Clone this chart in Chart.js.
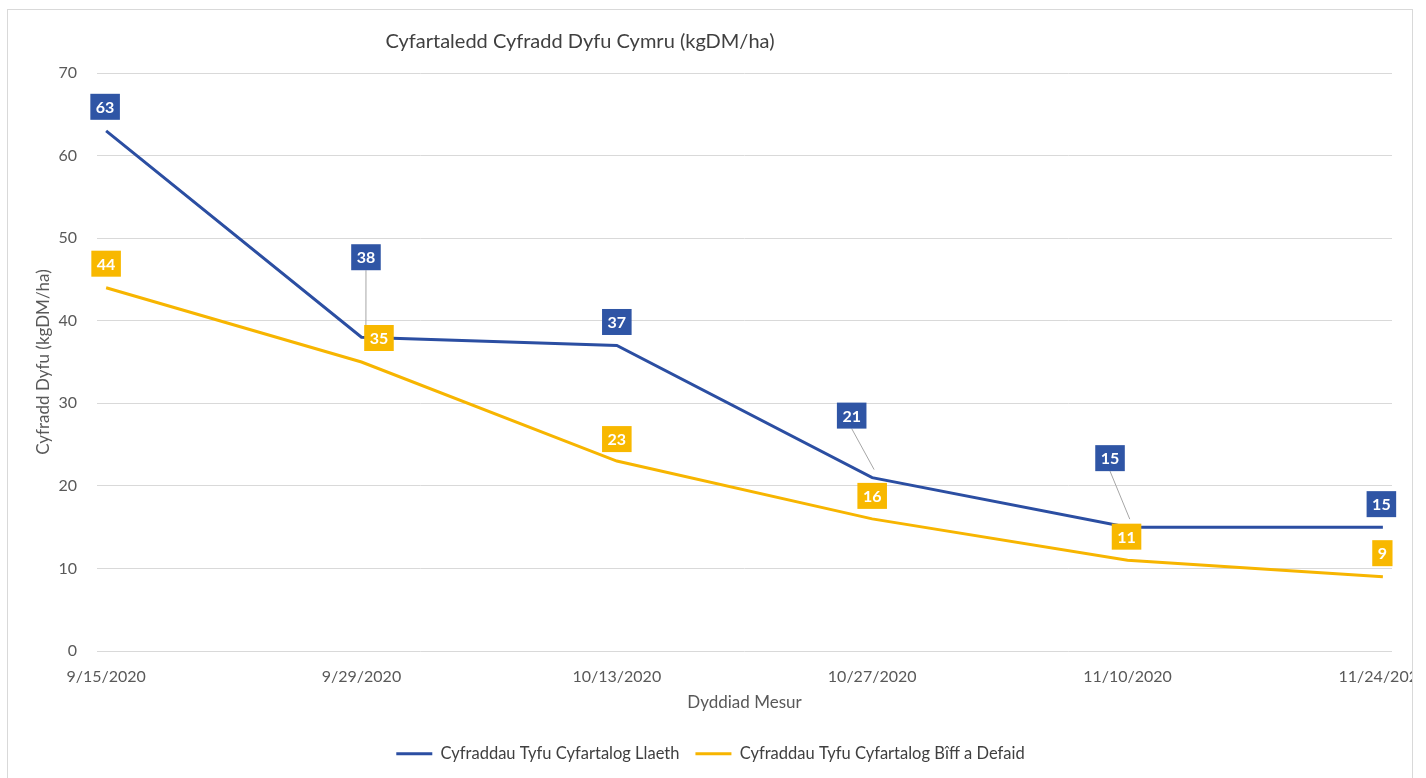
<!DOCTYPE html>
<html>
<head>
<meta charset="utf-8">
<script src="https://cdn.jsdelivr.net/npm/chart.js@4.4.0/dist/chart.umd.min.js"></script>
<style>
  html, body { margin: 0; padding: 0; background: #fff; overflow: hidden; }
  #frame { position: absolute; left: 7px; top: 9px; width: 1404px; height: 780px; border: 1px solid #d9d9d9; overflow: hidden; }
  #chart { display: block; }
</style>
</head>
<body>
<div id="frame"><canvas id="chart" width="1404" height="768"></canvas></div>
<script>
// data
const dates = ["9/15/2020", "9/29/2020", "10/13/2020", "10/27/2020", "11/10/2020", "11/24/2020"];
const llaeth = [63, 38, 37, 21, 15, 15];
const biffDefaid = [44, 35, 23, 16, 11, 9];

const titleText = "Cyfartaledd Cyfradd Dyfu Cymru (kgDM/ha)";

// date axis: day number since the first date
const toDay = s => {
  const [m, d, y] = s.split("/").map(Number);
  return Date.UTC(y, m - 1, d) / 864e5;
};
const dayIdx = dates.map(s => toDay(s) - toDay(dates[0]));

// label box placement (px from the point), like the hand-moved Excel labels
const llaethShift = [[-1, -24], [4.5, -80], [0, -23.5], [-20.5, -62], [-17.5, -69], [-1.5, -23]];
const biffShift = [[0, -24], [17.5, -24], [0, -22], [0, -23], [-1, -23.5], [-0.5, -23.5]];
const labelShifts = [llaethShift, biffShift];

const blue = "#2b4ea2";
const yellow = "#f7b500";
const boxColors = ["#2f55a5", "#f8b800"];
const grey = "#595959";

const boxLabels = {
  id: "boxLabels",
  afterDatasetsDraw(chart) {
    const ctx = chart.ctx;
    ctx.save();
    ctx.font = "bold 16px Lato";
    ctx.textAlign = "center";
    ctx.textBaseline = "middle";
    chart.data.datasets.forEach((ds, di) => {
      const meta = chart.getDatasetMeta(di);
      meta.data.forEach((pt, i) => {
        const [dx, dy] = labelShifts[di][i];
        const cx = pt.x + dx, cy = pt.y + dy;
        const txt = String(ds.data[i].y);
        const w = ctx.measureText(txt).width + 11, h = 26;
        if (Math.abs(dy) > 40) {
          // leader line towards the point
          ctx.strokeStyle = "#a6a6a6";
          ctx.lineWidth = 1;
          ctx.beginPath();
          ctx.moveTo(cx, cy + h / 2);
          ctx.lineTo(pt.x + (cx - pt.x) * 0.1 + 4, pt.y - 8);
          ctx.stroke();
        }
        ctx.fillStyle = boxColors[di];
        ctx.fillRect(cx - w / 2, cy - h / 2, w, h);
        ctx.fillStyle = "#fff";
        ctx.fillText(txt, cx, cy + 1);
      });
    });
    ctx.restore();
  }
};

const chartTitle = {
  id: "chartTitle",
  afterDraw(chart) {
    const ctx = chart.ctx;
    ctx.save();
    ctx.font = "20px Lato";
    ctx.fillStyle = "#404040";
    ctx.textAlign = "center";
    ctx.textBaseline = "middle";
    ctx.fillText(titleText, 572, 32);
    ctx.restore();
  }
};

new Chart(document.getElementById("chart"), {
  type: "line",
  data: {
    datasets: [
      {
        label: "Cyfraddau Tyfu Cyfartalog Llaeth",
        data: llaeth.map((v, i) => ({ x: dayIdx[i], y: v })),
        borderColor: blue,
        backgroundColor: blue,
        borderWidth: 3,
        pointRadius: 0,
        tension: 0,
        clip: false
      },
      {
        label: "Cyfraddau Tyfu Cyfartalog Bîff a Defaid",
        data: biffDefaid.map((v, i) => ({ x: dayIdx[i], y: v })),
        borderColor: yellow,
        backgroundColor: yellow,
        borderWidth: 3,
        pointRadius: 0,
        tension: 0,
        clip: false
      }
    ]
  },
  options: {
    responsive: false,
    animation: false,
    events: [],
    layout: { padding: { left: 21, right: 20, top: 63, bottom: 6 } },
    scales: {
      x: {
        type: "linear",
        min: -0.5,
        max: dayIdx[dayIdx.length - 1] + 0.5,
        afterBuildTicks: s => { s.ticks = dayIdx.map(v => ({ value: v })); },
        afterFit: s => { s.paddingLeft = 0; s.paddingRight = 0; s.height = 78.5; },
        grid: { display: false, drawTicks: false },
        border: { display: false },
        ticks: {
          callback: (v, i) => dates[i],
          autoSkip: false,
          maxRotation: 0,
          padding: 16,
          color: grey,
          font: { family: "Lato", size: 16 }
        },
        title: {
          display: true,
          text: "Dyddiad Mesur",
          color: grey,
          font: { family: "Lato", size: 17 },
          padding: { top: 4, bottom: 17 }
        }
      },
      y: {
        min: 0,
        max: 70,
        afterFit: s => { s.width = 68; s.paddingTop = 0; s.paddingBottom = 0; },
        grid: { color: "#d9d9d9", drawTicks: false },
        border: { display: false },
        ticks: {
          stepSize: 10,
          padding: 20,
          color: grey,
          font: { family: "Lato", size: 16 }
        },
        title: {
          display: true,
          text: "Cyfradd Dyfu (kgDM/ha)",
          color: grey,
          font: { family: "Lato", size: 17 }
        }
      }
    },
    plugins: {
      legend: {
        position: "bottom",
        labels: {
          usePointStyle: true,
          pointStyle: "line",
          pointStyleWidth: 36,
          padding: 16,
          color: "#404040",
          font: { family: "Lato", size: 16.5 }
        }
      },
      tooltip: { enabled: false }
    }
  },
  plugins: [boxLabels, chartTitle]
});
</script>
</body>
</html>
